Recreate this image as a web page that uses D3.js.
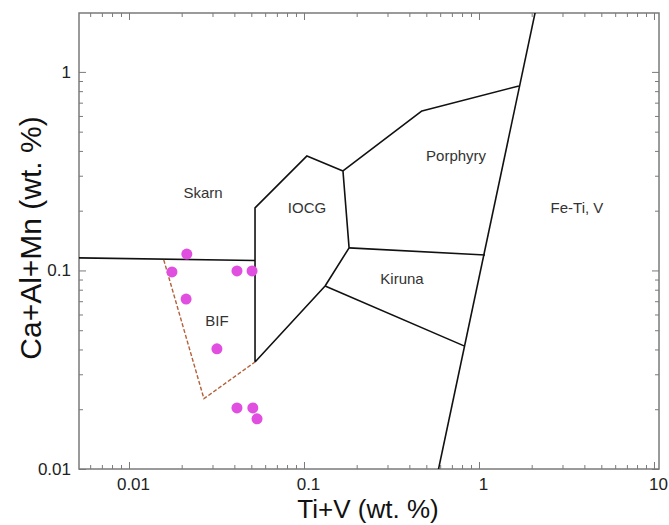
<!DOCTYPE html>
<html>
<head>
<meta charset="utf-8">
<script src="https://cdn.jsdelivr.net/npm/d3@7"></script>
<style>
  body { margin: 0; background: #fff; }
  text { font-family: "Liberation Sans", Arial, Helvetica, sans-serif; }
</style>
</head>
<body>
<div id="chart"></div>
<script>
// Chart size
var svgWidth = 669;
var svgHeight = 525;

// Plot frame in pixels
var frame = { left: 79, right: 659, top: 13, bottom: 469 };

// Tick labels
var xMajor = [0.01, 0.1, 1, 10];
var xMajorLabels = ["0.01", "0.1", "1", "10"];
var yMajor = [0.01, 0.1, 1];
var yMajorLabels = ["0.01", "0.1", "1"];

// Samples (Ti+V, Ca+Al+Mn)
var sampleX = [0.0214, 0.0176, 0.0414, 0.0505, 0.0212, 0.0318, 0.0414, 0.051, 0.0539];
var sampleY = [0.121, 0.0983, 0.0994, 0.0994, 0.0718, 0.0403, 0.0203, 0.0203, 0.0179];

// Field boundaries as [x, y] pairs
var skarnBifLine = [[0.005, 0.1158], [0.0525, 0.1123]];
var iocgOutline = [[0.0525, 0.0346], [0.0525, 0.2065], [0.104, 0.3775], [0.167, 0.317],
                   [0.181, 0.130], [0.132, 0.0835], [0.0525, 0.0346]];
var porphyryTop = [[0.167, 0.317], [0.472, 0.636], [1.69, 0.85]];
var kirunaTop = [[0.181, 0.130], [1.082, 0.1197]];
var kirunaBottom = [[0.132, 0.0835], [0.821, 0.0417]];
var feTiLine = [[0.58, 0.0095], [2.12, 2.1]];
var bifDashed = [[0.0158, 0.113], [0.0268, 0.0226], [0.0525, 0.0346]];

// Field names
var fieldNames = ["Skarn", "IOCG", "Porphyry", "Kiruna", "Fe-Ti, V", "BIF"];
var fieldX = [0.0265, 0.104, 0.74, 0.363, 3.63, 0.0318];
var fieldY = [0.2457, 0.2065, 0.3775, 0.0906, 0.2065, 0.0557];

var svg = d3.select("#chart")
  .append("svg")
  .attr("width", svgWidth)
  .attr("height", svgHeight);

var x = d3.scaleLog()
  .domain([0.00518, 10.68])
  .range([frame.left, frame.right]);

var y = d3.scaleLog()
  .domain([0.01, 1.98])
  .range([frame.bottom, frame.top]);

var axisColor = "#7a7a7a";

// clip for boundaries
svg.append("clipPath").attr("id", "plotClip")
  .append("rect")
  .attr("x", frame.left).attr("y", frame.top)
  .attr("width", frame.right - frame.left)
  .attr("height", frame.bottom - frame.top);

// Minor ticks from the scales
var xMinor = x.ticks().filter(d => xMajor.indexOf(d) < 0);
var yMinor = y.ticks().filter(d => yMajor.indexOf(d) < 0);

function styleAxis(g) {
  g.select(".domain").remove();
  g.selectAll(".tick line").attr("stroke", axisColor).attr("stroke-width", 1);
  g.selectAll(".tick text")
    .attr("fill", "#222")
    .attr("font-size", "17px")
    .attr("font-family", "Liberation Sans, Arial, sans-serif");
}

// bottom axis
svg.append("g")
  .attr("transform", `translate(0, ${frame.bottom})`)
  .call(d3.axisBottom(x).tickValues(xMajor).tickFormat((d, i) => xMajorLabels[i])
    .tickSize(-7).tickPadding(9))
  .call(styleAxis)
  .selectAll(".tick text").attr("dx", 4);

svg.append("g")
  .attr("transform", `translate(0, ${frame.bottom})`)
  .call(d3.axisBottom(x).tickValues(xMinor).tickFormat("").tickSize(-4))
  .call(styleAxis);

// top axis
svg.append("g")
  .attr("transform", `translate(0, ${frame.top})`)
  .call(d3.axisTop(x).tickValues(xMajor).tickFormat("").tickSize(-7))
  .call(styleAxis);

svg.append("g")
  .attr("transform", `translate(0, ${frame.top})`)
  .call(d3.axisTop(x).tickValues(xMinor).tickFormat("").tickSize(-4))
  .call(styleAxis);

// left axis
svg.append("g")
  .attr("transform", `translate(${frame.left}, 0)`)
  .call(d3.axisLeft(y).tickValues(yMajor).tickFormat((d, i) => yMajorLabels[i])
    .tickSize(-7).tickPadding(8))
  .call(styleAxis);

svg.append("g")
  .attr("transform", `translate(${frame.left}, 0)`)
  .call(d3.axisLeft(y).tickValues(yMinor).tickFormat("").tickSize(-4))
  .call(styleAxis);

// right axis
svg.append("g")
  .attr("transform", `translate(${frame.right}, 0)`)
  .call(d3.axisRight(y).tickValues(yMajor).tickFormat("").tickSize(-7))
  .call(styleAxis);

svg.append("g")
  .attr("transform", `translate(${frame.right}, 0)`)
  .call(d3.axisRight(y).tickValues(yMinor).tickFormat("").tickSize(-4))
  .call(styleAxis);

// frame
svg.append("rect")
  .attr("x", frame.left).attr("y", frame.top)
  .attr("width", frame.right - frame.left)
  .attr("height", frame.bottom - frame.top)
  .attr("fill", "none")
  .attr("stroke", axisColor)
  .attr("stroke-width", 1.5);

// boundaries
var line = d3.line().x(d => x(d[0])).y(d => y(d[1]));
var bounds = svg.append("g").attr("clip-path", "url(#plotClip)");

[skarnBifLine, iocgOutline, porphyryTop, kirunaTop, kirunaBottom, feTiLine].forEach(pts => {
  bounds.append("path")
    .attr("d", line(pts))
    .attr("fill", "none")
    .attr("stroke", "#111")
    .attr("stroke-width", 1.6)
    .attr("stroke-linejoin", "round");
});

bounds.append("path")
  .attr("d", line(bifDashed))
  .attr("fill", "none")
  .attr("stroke", "#b5603a")
  .attr("stroke-width", 1.4)
  .attr("stroke-dasharray", "4,2");

// field names
svg.append("g").selectAll("text")
  .data(fieldNames)
  .enter()
  .append("text")
  .attr("x", (d, i) => x(fieldX[i]))
  .attr("y", (d, i) => y(fieldY[i]))
  .attr("dy", "0.35em")
  .attr("text-anchor", "middle")
  .attr("font-size", "15px")
  .attr("fill", "#333")
  .text(d => d);

// samples
svg.append("g").selectAll("circle")
  .data(sampleX)
  .enter()
  .append("circle")
  .attr("cx", d => x(d))
  .attr("cy", (d, i) => y(sampleY[i]))
  .attr("r", 5.5)
  .attr("fill", "#e14fe0");

// Axis titles
svg.append("text")
  .attr("x", 368)
  .attr("y", 518)
  .attr("text-anchor", "middle")
  .attr("font-size", "26px")
  .attr("fill", "#111")
  .text("Ti+V (wt. %)");

svg.append("text")
  .attr("transform", "translate(41, 238) rotate(-90)")
  .attr("text-anchor", "middle")
  .attr("font-size", "30px")
  .attr("fill", "#111")
  .text("Ca+Al+Mn (wt. %)");
</script>
</body>
</html>
